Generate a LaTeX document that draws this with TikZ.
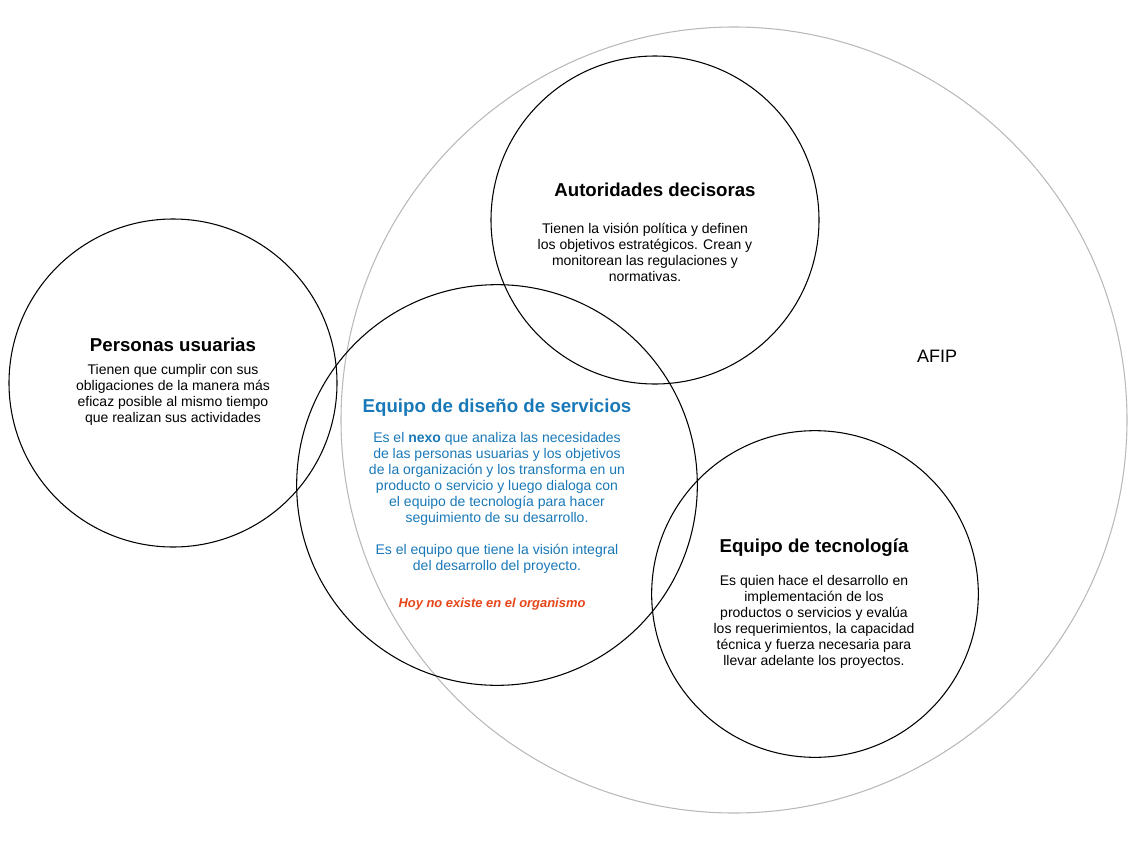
\documentclass[tikz,border=0pt]{standalone}
\usepackage{fontspec}
\setmainfont{Liberation Sans}
\definecolor{afipgray}{RGB}{185,185,185}
\definecolor{dblue}{RGB}{24,120,184}
\definecolor{dred}{RGB}{230,70,25}
\begin{document}
\begin{tikzpicture}[x=0.75pt,y=-0.75pt,
  ring/.style={circle,draw=black,line width=0.8pt,inner sep=0pt,minimum size=#1},
  bigring/.style={circle,draw=afipgray,line width=0.8pt,inner sep=0pt,minimum size=#1},
  ttl/.style={font=\fontsize{14}{16}\selectfont\bfseries,inner sep=0pt},
  body/.style={font=\fontsize{10.5}{12}\selectfont,align=center,inner sep=0pt,anchor=north}]
\useasboundingbox (0,0) rectangle (1133,843);
% circles
\node[bigring=589.5pt] (afip) at (734,420) {};
\node[ring=246pt] (pu) at (173,383) {};
\node[ring=246pt] (ad) at (655,220) {};
\node[ring=300.5pt] (ds) at (497,485) {};
\node[ring=245pt] (et) at (815,594) {};
% AFIP label
\node[font=\fontsize{13.5}{16}\selectfont,inner sep=0pt] (afipl) at (937,356) {AFIP};
% Personas usuarias
\node[ttl] (put) at (173,345) {Personas usuarias};
\node[body] (pub) at (173,364) {Tienen que cumplir con sus\\obligaciones de la manera más\\eficaz posible al mismo tiempo\\que realizan sus actividades};
% Autoridades
\node[ttl] (adt) at (655,190) {Autoridades decisoras};
\node[body] (adb) at (645,223) {Tienen la visión política y definen\\los objetivos estratégicos. Crean y\\monitorean las regulaciones y\\normativas.};
% Diseño
\node[ttl,text=dblue] (dst) at (497,408) {Equipo de diseño de servicios};
\node[body,text=dblue] (dsb) at (497,432) {Es el \textbf{nexo} que analiza las necesidades\\de las personas usuarias y los objetivos\\de la organización y los transforma en un\\producto o servicio y luego dialoga con\\el equipo de tecnología para hacer\\seguimiento de su desarrollo.\\[12pt]Es el equipo que tiene la visión integral\\del desarrollo del proyecto.};
\node[body,anchor=center,text=dred,font=\fontsize{9.7}{12}\selectfont\bfseries\itshape] (dsr) at (492,604) {Hoy no existe en el organismo};
% Tecnologia
\node[ttl] (ett) at (814,548) {Equipo de tecnología};
\node[body] (etb) at (814,575) {Es quien hace el desarrollo en\\implementación de los\\productos o servicios y evalúa\\los requerimientos, la capacidad\\técnica y fuerza necesaria para\\llevar adelante los proyectos.};
\end{tikzpicture}
\end{document}
